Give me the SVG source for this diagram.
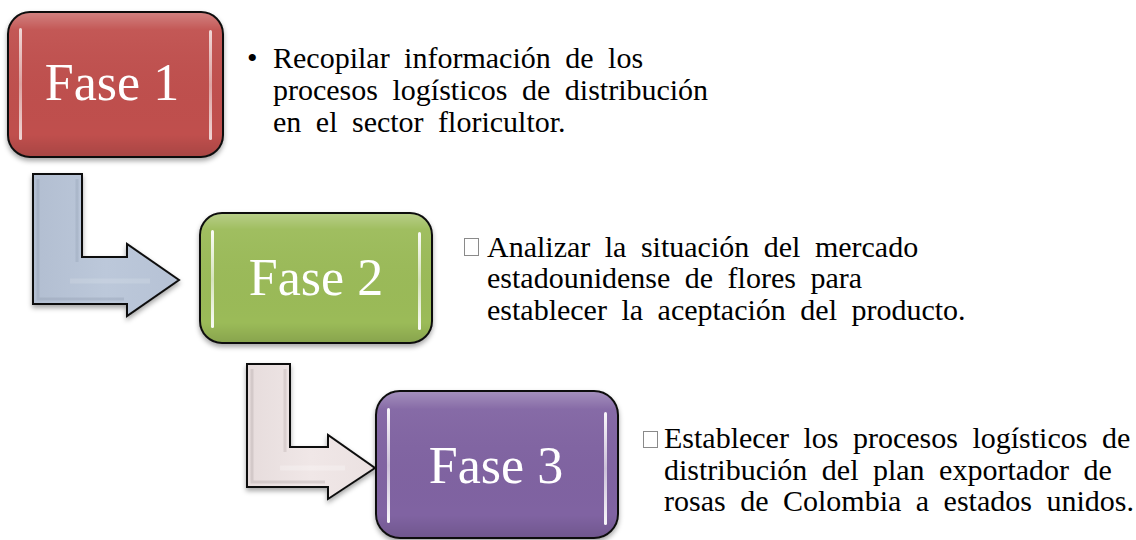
<svg xmlns="http://www.w3.org/2000/svg" width="1136" height="540" viewBox="0 0 1136 540">
<style>
.box{stroke:#111;stroke-width:2}
.lbl{font-family:"Liberation Serif","Times New Roman",serif;font-size:52px;fill:#fff;text-anchor:middle}
.dtxt{font-family:"Liberation Serif","Times New Roman",serif;font-size:30px;fill:#000;word-spacing:7px}
.arrow{stroke:#111;stroke-width:2;stroke-linejoin:miter}
.hl{fill:url(#hlg)}
.gb{fill:none;stroke:#8a8a8a;stroke-width:1}
</style>
<defs>
<filter id="sh" x="-10%" y="-10%" width="120%" height="130%">
<feDropShadow dx="0" dy="3" stdDeviation="2.5" flood-color="#000" flood-opacity="0.35"/>
</filter>
<linearGradient id="gloss" x1="0" y1="0" x2="0" y2="1">
<stop offset="0" stop-color="#fff" stop-opacity="0.28"/>
<stop offset="0.12" stop-color="#fff" stop-opacity="0.05"/>
<stop offset="0.85" stop-color="#000" stop-opacity="0"/>
<stop offset="1" stop-color="#000" stop-opacity="0.12"/>
</linearGradient>
<linearGradient id="hlg" x1="0" y1="0" x2="0" y2="1">
<stop offset="0" stop-color="#fff" stop-opacity="0.95"/>
<stop offset="0.5" stop-color="#fff" stop-opacity="0.6"/>
<stop offset="1" stop-color="#fff" stop-opacity="0.95"/>
</linearGradient>
<linearGradient id="a1g" x1="0" y1="0" x2="1" y2="0">
<stop offset="0" stop-color="#b2bed1"/>
<stop offset="0.5" stop-color="#bcc8da"/>
<stop offset="1" stop-color="#b6c2d5"/>
</linearGradient>
<linearGradient id="a2g" x1="0" y1="0" x2="1" y2="0">
<stop offset="0" stop-color="#e6dcdc"/>
<stop offset="0.5" stop-color="#f0e7e7"/>
<stop offset="1" stop-color="#ebe1e1"/>
</linearGradient>
</defs>

<g id="connectors">
<g id="arrow-1-2" filter="url(#sh)">
<polygon class="arrow" fill="url(#a1g)" points="33,174 82,174 82,257 127,257 127,244 179,280 127,316 127,304 33,304"/>
<polyline points="38,179 38,299 124,299" fill="none" stroke="#8e9ab0" stroke-opacity="0.35" stroke-width="3"/>
<polyline points="77,179 77,262" fill="none" stroke="#8e9ab0" stroke-opacity="0.3" stroke-width="3"/>
<polyline points="70,281 150,281" fill="none" stroke="#fff" stroke-opacity="0.14" stroke-width="5"/>
</g>
<g id="arrow-2-3" filter="url(#sh)">
<polygon class="arrow" fill="url(#a2g)" points="247,364 290,364 290,447 328,447 328,435 375,468 328,499 328,487 247,487"/>
<polyline points="252,369 252,482 325,482" fill="none" stroke="#b0a2a2" stroke-opacity="0.35" stroke-width="3"/>
<polyline points="285,369 285,452" fill="none" stroke="#b0a2a2" stroke-opacity="0.3" stroke-width="3"/>
<polyline points="280,468 345,468" fill="none" stroke="#fff" stroke-opacity="0.25" stroke-width="5"/>
</g>
</g>

<g id="node-fase1">
<rect class="box" x="8" y="12" width="215" height="145" rx="22" fill="#c0504d" filter="url(#sh)"/>
<rect x="9" y="13" width="213" height="143" rx="21" fill="url(#gloss)"/>
<rect class="hl" x="19" y="28" width="3" height="112" rx="1.5" fill-opacity="0.8"/>
<rect class="hl" x="209" y="30" width="3" height="110" rx="1.5" fill-opacity="0.8"/>
<text class="lbl" x="112" y="100">Fase 1</text>
</g>

<g id="node-fase2">
<rect class="box" x="200" y="213" width="232" height="130" rx="22" fill="#9bbb59" filter="url(#sh)"/>
<rect x="201" y="214" width="230" height="128" rx="21" fill="url(#gloss)"/>
<rect class="hl" x="211" y="230" width="3" height="98" rx="1.5"/>
<rect class="hl" x="418" y="232" width="3" height="98" rx="1.5"/>
<text class="lbl" x="316" y="295">Fase 2</text>
</g>

<g id="node-fase3">
<rect class="box" x="376" y="391" width="242" height="147" rx="24" fill="#8064a2" filter="url(#sh)"/>
<rect x="377" y="392" width="240" height="145" rx="23" fill="url(#gloss)"/>
<rect class="hl" x="387" y="408" width="3" height="115" rx="1.5"/>
<rect class="hl" x="604" y="412" width="3" height="113" rx="1.5"/>
<text class="lbl" x="496" y="483">Fase 3</text>
</g>

<g id="text-fase1">
<text class="dtxt" x="247" y="68">•</text>
<text class="dtxt" x="273" y="68">Recopilar información de los</text>
<text class="dtxt" x="273" y="100">procesos logísticos de distribución</text>
<text class="dtxt" x="273" y="131.5">en el sector floricultor.</text>
</g>

<g id="text-fase2">
<rect class="gb" x="464.5" y="238.5" width="14" height="17"/>
<text class="dtxt" x="487" y="256.5">Analizar la situación del mercado</text>
<text class="dtxt" x="487" y="288">estadounidense de flores para</text>
<text class="dtxt" x="487" y="319.5">establecer la aceptación del producto.</text>
</g>

<g id="text-fase3">
<rect class="gb" x="643.5" y="431.5" width="14" height="16"/>
<text class="dtxt" x="664" y="448">Establecer los procesos logísticos de</text>
<text class="dtxt" x="664" y="479.5">distribución del plan exportador de</text>
<text class="dtxt" x="664" y="511">rosas de Colombia a estados unidos.</text>
</g>
</svg>
